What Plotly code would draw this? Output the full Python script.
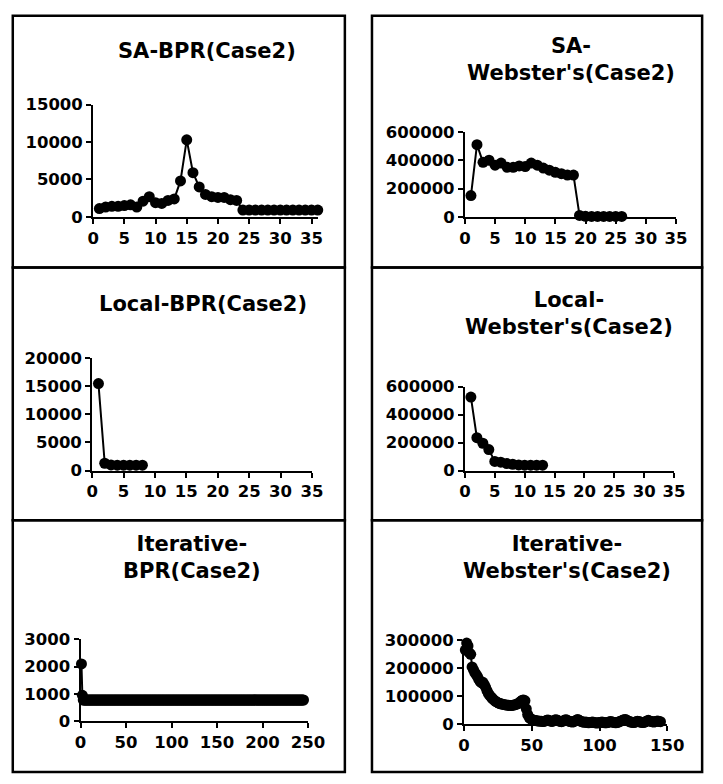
import plotly.graph_objects as go

W, H = 723, 784

# ---------------- data ----------------
sa_bpr_y = [1100, 1300, 1400, 1400, 1500, 1600, 1300, 2100, 2700, 1900,
            1800, 2200, 2400, 4800, 10300, 5900, 4000, 3000, 2700, 2600,
            2600, 2300, 2200, 900, 900, 900, 900, 900, 900, 900,
            900, 900, 900, 900, 900, 900]

sa_web_y = [150000, 510000, 385000, 400000, 365000, 380000, 350000, 350000, 360000, 355000,
            380000, 365000, 345000, 330000, 315000, 305000, 295000, 295000, 10000, 4000,
            3000, 3000, 3000, 3000, 3000, 3000]

local_bpr_y = [15500, 1300, 1000, 950, 950, 950, 950, 950]

local_web_y = [525000, 235000, 195000, 150000, 65000, 60000, 50000, 45000, 40000, 38000,
               38000, 38000, 38000]

iter_bpr_y = [2100, 950,
              780, 780, 780, 780, 780, 780, 780, 780, 780, 780, 780, 780, 780, 780, 780, 780, 780, 780, 780, 780,
              780, 780, 780, 780, 780, 780, 780, 780, 780, 780, 780, 780, 780, 780, 780, 780, 780, 780, 780, 780,
              780, 780, 780, 780, 780, 780, 780, 780, 780, 780, 780, 780, 780, 780, 780, 780, 780, 780, 780, 780,
              780, 780, 780, 780, 780, 780, 780, 780, 780, 780, 780, 780, 780, 780, 780, 780, 780, 780, 780, 780,
              780, 780, 780, 780, 780, 780, 780, 780, 780, 780, 780, 780, 780, 780, 780, 780, 780, 780, 780, 780,
              780, 780, 780, 780, 780, 780, 780, 780, 780, 780, 780, 780, 780, 780, 780, 780, 780, 780, 780, 780,
              780, 780, 780, 780, 780, 780, 780, 780, 780, 780, 780, 780, 780, 780, 780, 780, 780, 780, 780, 780,
              780, 780, 780, 780, 780, 780, 780, 780, 780, 780, 780, 780, 780, 780, 780, 780, 780, 780, 780, 780,
              780, 780, 780, 780, 780, 780, 780, 780, 780, 780, 780, 780, 780, 780, 780, 780, 780, 780, 780, 780,
              780, 780, 780, 780, 780, 780, 780, 780, 780, 780, 780, 780, 780, 780, 780, 780, 780, 780, 780, 780,
              780, 780, 780, 780, 780, 780, 780, 780, 780, 780, 780, 780, 780, 780, 780, 780, 780, 780, 780, 780,
              780, 780, 780, 780, 780, 780, 780, 780, 780, 780, 780, 780, 780, 780, 780, 780, 780, 780, 780, 780,
              780, 780, 780]

iter_web_y = [265000, 290000, 280000, 255000, 250000, 205000, 195000, 185000, 178000, 170000,
              160000, 152000, 148000, 150000, 142000, 132000, 120000, 110000, 103000, 97000,
              92000, 87000, 83000, 80000, 77000, 75000, 73000, 72000, 71000, 70000,
              69000, 68000, 68000, 67000, 67000, 68000, 69000, 70000, 72000, 74000,
              77000, 82000, 86000, 87000, 84000, 55000, 35000, 25000, 20000, 17000,
              15000, 14000, 13000, 12000, 12000, 11000, 11000, 10000, 10000, 12000,
              14000, 15000, 13000, 11000, 10000, 12000, 15000, 16000, 14000, 12000,
              10000, 9000, 11000, 14000, 16000, 15000, 12000, 10000, 9000, 8000,
              9000, 12000, 15000, 17000, 14000, 11000, 9000, 8000, 7000, 8000,
              6000, 5000, 6000, 7000, 8000, 6000, 5000, 4000, 5000, 6000,
              7000, 8000, 6000, 5000, 5000, 6000, 8000, 10000, 9000, 7000,
              6000, 5000, 6000, 8000, 10000, 12000, 14000, 16000, 17000, 15000,
              12000, 10000, 8000, 7000, 6000, 7000, 9000, 11000, 10000, 8000,
              7000, 6000, 7000, 9000, 12000, 14000, 12000, 10000, 9000, 8000,
              9000, 11000, 12000, 10000, 9000]

titles = ["SA-BPR(Case2)", "SA-<br>Webster's(Case2)",
          "Local-BPR(Case2)", "Local-<br>Webster's(Case2)",
          "Iterative-<br>BPR(Case2)", "Iterative-<br>Webster's(Case2)"]

x_ticks_35 = [0, 5, 10, 15, 20, 25, 30, 35]
x_ticks_250 = [0, 50, 100, 150, 200, 250]
x_ticks_150 = [0, 50, 100, 150]
y_ticks_15k = [0, 5000, 10000, 15000]
y_ticks_600k = [0, 200000, 400000, 600000]
y_ticks_20k = [0, 5000, 10000, 15000, 20000]
y_ticks_3k = [0, 1000, 2000, 3000]
y_ticks_300k = [0, 100000, 200000, 300000]

series = [sa_bpr_y, sa_web_y, local_bpr_y, local_web_y, iter_bpr_y, iter_web_y]
x_tick_sets = [x_ticks_35, x_ticks_35, x_ticks_35, x_ticks_35, x_ticks_250, x_ticks_150]
y_tick_sets = [y_ticks_15k, y_ticks_600k, y_ticks_20k, y_ticks_600k, y_ticks_3k, y_ticks_300k]
x_ranges = [[0, 36], [0, 35], [0, 35], [0, 35], [0, 250], [0, 150]]

# ---------------- layout (page pixels) ----------------
boxes = [(7, 7, 350, 265), (378, 7, 719, 265),
         (7, 265, 350, 524), (378, 265, 719, 524),
         (7, 524, 350, 782), (378, 524, 719, 782)]
plots = [(90, 98, 322, 213), (474, 126, 692, 213),
         (89, 358, 316, 473), (474, 387, 690, 473),
         (77, 646, 312, 730), (473, 647, 683, 733)]
title_pos = [(208, 43), (584, 52), (203, 302), (582, 312), (192, 562), (579, 562)]

FONT = "DejaVu Sans"

fig = go.Figure()
layout = dict(width=W, height=H, margin=dict(l=0, r=0, t=0, b=0),
              paper_bgcolor="white", plot_bgcolor="white",
              showlegend=False, hovermode=False)

def px(x):
    return x / W

def py(y):
    return 1 - y / H

shapes = []
annotations = []
for i in range(6):
    ys = series[i]
    xs = list(range(1, len(ys) + 1))
    xa = "x" if i == 0 else f"x{i+1}"
    ya = "y" if i == 0 else f"y{i+1}"
    fig.add_trace(go.Scatter(x=xs, y=ys, xaxis=xa, yaxis=ya, mode="lines+markers",
                             line=dict(color="black", width=2),
                             marker=dict(color="black", size=11),
                             cliponaxis=False))
    x0, y0, x1, y1 = plots[i]
    xt = x_tick_sets[i]
    yt = y_tick_sets[i]
    axcommon = dict(showline=True, linecolor="black", linewidth=2, showgrid=False,
                    zeroline=False, ticks="outside", ticklen=5, tickwidth=2,
                    tickcolor="black",
                    tickfont=dict(family=FONT, size=16.5, color="black", weight="bold"))
    layout["xaxis" if i == 0 else f"xaxis{i+1}"] = dict(
        domain=[px(x0), px(x1)], range=x_ranges[i], tickmode="array",
        tickvals=xt, ticktext=[str(v) for v in xt], anchor=ya, **axcommon)
    layout["yaxis" if i == 0 else f"yaxis{i+1}"] = dict(
        domain=[py(y1), py(y0)], range=[yt[0], yt[-1]], tickmode="array",
        tickvals=yt, ticktext=[str(v) for v in yt], anchor=xa, **axcommon)
    bx0, by0, bx1, by1 = boxes[i]
    shapes.append(dict(type="rect", xref="paper", yref="paper",
                       x0=px(bx0), x1=px(bx1), y0=py(by1), y1=py(by0),
                       line=dict(color="black", width=2.5)))
    tx, ty = title_pos[i]
    annotations.append(dict(text=titles[i], xref="paper", yref="paper",
                            x=px(tx), y=py(ty), xanchor="center", yanchor="middle",
                            showarrow=False, align="center",
                            font=dict(family=FONT, size=21, color="black", weight="bold")))

layout["shapes"] = shapes
layout["annotations"] = annotations
fig.update_layout(**layout)
fig.write_html("out.html", config={"displayModeBar": False},
               post_script="document.body.style.margin='0';document.body.style.overflow='hidden';")
